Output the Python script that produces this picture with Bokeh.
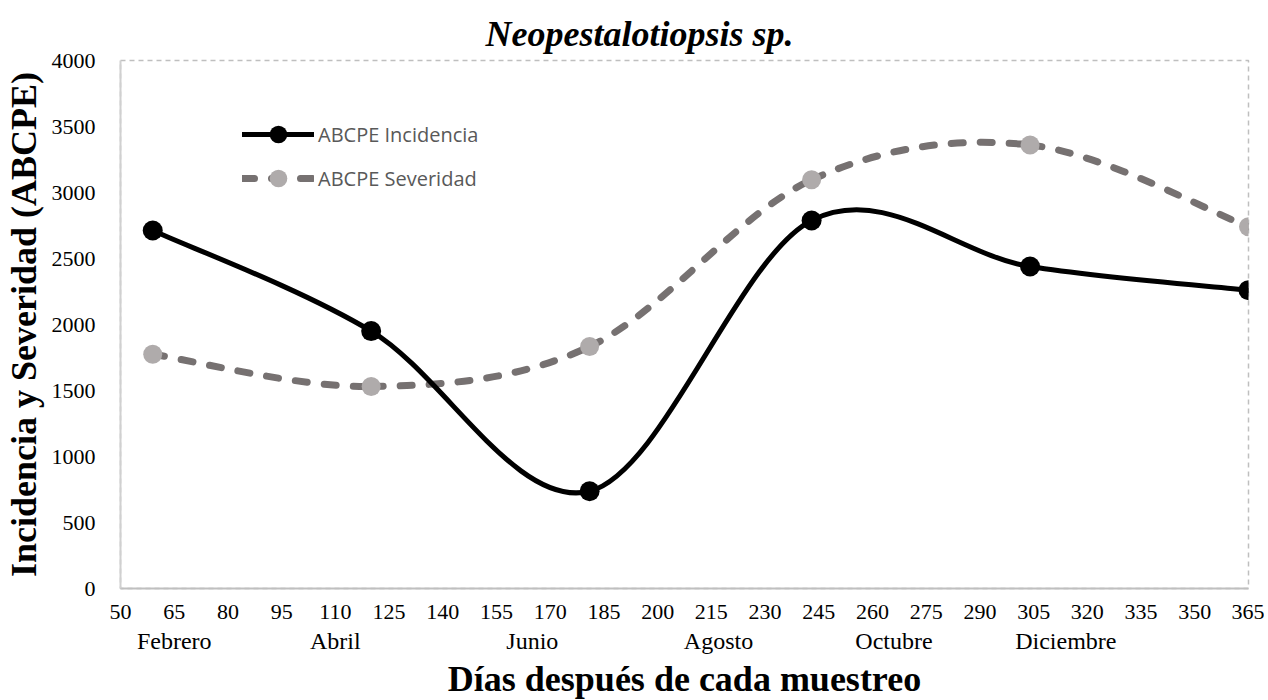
from bokeh.plotting import figure
from bokeh.models import Range1d, FixedTicker, LinearAxis, Legend, LegendItem, Title
from bokeh.embed import file_html
from bokeh.resources import INLINE

# ---- data ----
dias = [59, 120, 181, 243, 304, 365]
incidencia = [2712, 1950, 737, 2788, 2439, 2260]
severidad = [1775, 1530, 1833, 3096, 3360, 2740]
x_ticks = list(range(50, 366, 15))
y_ticks = list(range(0, 4001, 500))
meses = ["Febrero", "Abril", "Junio", "Agosto", "Octubre", "Diciembre"]
meses_dia = [65, 110, 165, 217, 266, 314]

SERIF = "Liberation Serif"


def bezier_segments(xs, ys, k=1 / 6):
    """Smoothed line (Catmull-Rom style) expressed as cubic Bezier segments."""
    n = len(xs)
    seg = dict(x0=[], y0=[], x1=[], y1=[], cx0=[], cy0=[], cx1=[], cy1=[])
    for i in range(n - 1):
        ip = max(i - 1, 0)
        inn = min(i + 2, n - 1)
        seg["x0"].append(xs[i]); seg["y0"].append(ys[i])
        seg["x1"].append(xs[i + 1]); seg["y1"].append(ys[i + 1])
        seg["cx0"].append(xs[i] + (xs[i + 1] - xs[ip]) * k)
        seg["cy0"].append(ys[i] + (ys[i + 1] - ys[ip]) * k)
        seg["cx1"].append(xs[i + 1] - (xs[inn] - xs[i]) * k)
        seg["cy1"].append(ys[i + 1] - (ys[inn] - ys[i]) * k)
    return seg


p = figure(frame_width=1128, frame_height=528,
           x_range=Range1d(50, 365), y_range=Range1d(0, 4000),
           output_backend="svg", toolbar_location=None,
           min_border_left=112, min_border_right=16, min_border_top=60,
           min_border_bottom=20, title=None)
p.grid.visible = False
p.outline_line_color = "#BFBFBF"
p.outline_line_dash = "5 4"
p.outline_line_width = 1.5

# title
p.add_layout(Title(text="Neopestalotiopsis sp.", align="left", offset=365,
                   text_font=SERIF, text_font_style="bold italic",
                   text_font_size="36px", text_color="black", standoff=13), "above")

# y axis
ya = p.yaxis[0]
ya.ticker = FixedTicker(ticks=y_ticks)
ya.major_tick_line_color = None
ya.minor_tick_line_color = None
ya.axis_line_color = "#D0D0D0"
ya.axis_line_width = 2
ya.major_label_text_font = SERIF
ya.major_label_text_font_size = "22px"
ya.major_label_text_color = "black"
ya.major_label_standoff = 19
ya.axis_label = "Incidencia y Severidad (ABCPE)"
ya.axis_label_text_font = SERIF
ya.axis_label_text_font_style = "bold"
ya.axis_label_text_font_size = "36px"
ya.axis_label_text_color = "black"
ya.axis_label_standoff = 5

# x axis (days)
xa = p.xaxis[0]
xa.ticker = FixedTicker(ticks=x_ticks)
xa.major_tick_line_color = None
xa.minor_tick_line_color = None
xa.axis_line_color = "#BFBFBF"
xa.axis_line_width = 2
xa.major_label_text_font = SERIF
xa.major_label_text_font_size = "22px"
xa.major_label_text_color = "black"
xa.major_label_standoff = 10

# second x axis (months) carrying the axis title
ma = LinearAxis(ticker=FixedTicker(ticks=meses_dia),
                major_label_overrides={d: m for d, m in zip(meses_dia, meses)})
ma.axis_line_color = None
ma.major_tick_line_color = None
ma.minor_tick_line_color = None
ma.major_label_text_font = SERIF
ma.major_label_text_font_size = "24px"
ma.major_label_text_color = "black"
ma.major_label_standoff = 0
ma.axis_label = "Días después de cada muestreo"
ma.axis_label_text_font = SERIF
ma.axis_label_text_font_style = "bold"
ma.axis_label_text_font_size = "36px"
ma.axis_label_text_color = "black"
ma.axis_label_standoff = 2
p.add_layout(ma, "below")

# series
sev = bezier_segments(dias, severidad)
sev_line = p.bezier(source=sev, x0="x0", y0="y0", x1="x1", y1="y1",
                    cx0="cx0", cy0="cy0", cx1="cx1", cy1="cy1",
                    line_color="#767171", line_width=7, line_dash="12 17", line_cap="round")
sev_pts = p.scatter(dias, severidad, size=19, fill_color="#AFABAB", line_color=None)

inc = bezier_segments(dias, incidencia)
inc_line = p.bezier(source=inc, x0="x0", y0="y0", x1="x1", y1="y1",
                    cx0="cx0", cy0="cy0", cx1="cx1", cy1="cy1",
                    line_color="black", line_width=5, line_cap="round")
inc_pts = p.scatter(dias, incidencia, size=20, fill_color="black", line_color=None)

# legend
legend = Legend(items=[
    LegendItem(label="ABCPE Incidencia", renderers=[inc_line, inc_pts]),
    LegendItem(label="ABCPE Severidad", renderers=[sev_line, sev_pts]),
], location=(122, 388), padding=0, spacing=0, glyph_width=72, glyph_height=44,
    label_standoff=4, label_text_font="Open Sans", label_text_font_size="20px",
    label_text_color="#595959", border_line_color=None, background_fill_alpha=0)
p.add_layout(legend, "center")

open("out.html", "w").write(file_html(p, INLINE))
